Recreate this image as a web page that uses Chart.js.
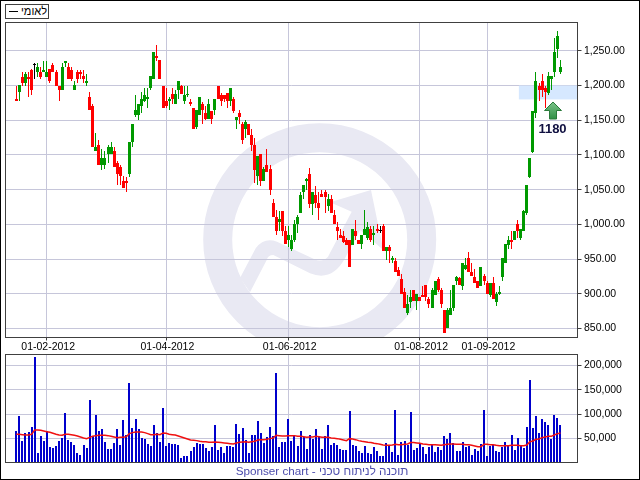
<!DOCTYPE html>
<html lang="he">
<head>
  <meta charset="UTF-8">
  <title>לאומי</title>
  <script src="https://cdn.jsdelivr.net/npm/chart.js"></script>
  <style>
    body { margin: 0; background: #fff; font-family: "Liberation Sans", Arial, sans-serif; }
    #page { position: relative; width: 640px; height: 480px; overflow: hidden; background: #fff; }
    #page canvas { position: absolute; left: 0; }
    #priceChart { top: 0; }
    #volumeChart { top: 340px; }
    #frame { position: absolute; left: 0; top: 0; width: 638px; height: 478px; border: 1px solid #000; }
    #legend {
      position: absolute; left: 5px; top: 4px; width: 42px; height: 13px;
      border: 1px solid #404040; background: #fff; font-size: 11px; line-height: 13px; color: #000;
    }
    #legend i { position: absolute; left: 3px; top: 6px; width: 9px; height: 1px; background: #000; }
    #legend span { position: absolute; left: 15px; top: 0; direction: rtl; }
    #footer {
      position: absolute; left: 2px; top: 464px; width: 640px; text-align: center;
      font-size: 11.7px; line-height: 14px; color: #4c4cac;
    }
  </style>
</head>
<body>
  <div id="page">
    <canvas id="priceChart" width="640" height="352"></canvas>
    <canvas id="volumeChart" width="640" height="140"></canvas>
    <div id="legend"><i></i><span>לאומי</span></div>
    <div id="footer">Sponser chart - תוכנה לניתוח טכני</div>
    <div id="frame"></div>
  </div>

  <script>
    // values, one entry per trading day
    var opens = [
      1181, 1191, 1213, 1204, 1212, 1222, 1230, 1220, 1220, 1220,
      1213, 1224, 1230, 1219, 1200, 1193, 1232, 1227, 1223, 1194,
      1220, 1219, 1214, 1203, 1183, 1170, 1105, 1115, 1085, 1085,
      1102, 1102, 1106, 1089, 1083, 1063, 1063, 1072, 1119, 1157,
      1158, 1171, 1178, 1180, 1196, 1209, 1243, 1237, 1199, 1177,
      1177, 1188, 1174, 1194, 1200, 1178, 1187, 1176, 1167, 1140,
      1158, 1174, 1160, 1152, 1163, 1165, 1199, 1186, 1186, 1189,
      1178, 1180, 1150, 1160, 1144, 1137, 1144, 1129, 1114, 1069,
      1101, 1062, 1086, 1080, 1031, 1010, 1003, 1019, 991, 978,
      964, 977, 1000, 1017, 1047, 1063, 1073, 1030, 1042, 1031,
      1044, 1046, 1026, 1037, 1014, 996, 985, 983, 978, 977,
      970, 991, 977, 971, 984, 980, 993, 984, 994, 991,
      997, 962, 968, 948, 947, 934, 921, 903, 872, 888,
      906, 890, 896, 898, 912, 893, 879, 898, 921, 906,
      877, 850, 869, 879, 918, 922, 911, 935, 951, 932,
      924, 918, 911, 925, 916, 898, 916, 888, 899, 924,
      945, 970, 978, 978, 1001, 981, 991, 1017, 1068, 1104,
      1161, 1199, 1206, 1196, 1189, 1209, 1219, 1252, 1220
    ];
    var closes = [
      1178, 1201, 1204, 1217, 1209, 1193, 1230, 1227, 1213, 1222,
      1219, 1207, 1220, 1199, 1194, 1227, 1235, 1210, 1209, 1201,
      1210, 1216, 1209, 1206, 1165, 1111, 1112, 1085, 1096, 1096,
      1112, 1112, 1083, 1072, 1069, 1053, 1059, 1118, 1144, 1165,
      1174, 1180, 1187, 1183, 1214, 1249, 1239, 1209, 1167, 1171,
      1180, 1180, 1188, 1206, 1188, 1187, 1188, 1173, 1138, 1165,
      1184, 1165, 1152, 1173, 1152, 1180, 1180, 1178, 1181, 1178,
      1196, 1163, 1154, 1155, 1121, 1147, 1129, 1114, 1078, 1098,
      1062, 1080, 1075, 1049, 1010, 991, 1008, 991, 971, 985,
      978, 1001, 1011, 1042, 1056, 1066, 1030, 1046, 1031, 1023,
      1039, 1039, 1037, 1017, 1001, 991, 980, 975, 970, 939,
      993, 983, 971, 985, 994, 996, 977, 987, 990, 991,
      962, 967, 961, 952, 931, 925, 900, 880, 885, 896,
      890, 899, 890, 895, 895, 885, 905, 919, 905, 885,
      844, 876, 880, 912, 924, 913, 945, 941, 931, 926,
      916, 909, 938, 919, 900, 916, 892, 900, 902, 951,
      971, 977, 975, 990, 991, 993, 1019, 1057, 1095, 1163,
      1206, 1194, 1194, 1190, 1214, 1214, 1249, 1271, 1227
    ];
    var highs = [
      1200, 1201, 1219, 1219, 1219, 1224, 1232, 1233, 1227, 1235,
      1235, 1224, 1233, 1222, 1200, 1232, 1236, 1232, 1227, 1207,
      1222, 1222, 1222, 1217, 1191, 1173, 1132, 1122, 1108, 1105,
      1114, 1118, 1111, 1091, 1085, 1069, 1068, 1118, 1144, 1186,
      1174, 1191, 1196, 1196, 1214, 1249, 1259, 1237, 1199, 1197,
      1183, 1197, 1194, 1206, 1201, 1200, 1200, 1181, 1167, 1165,
      1184, 1176, 1170, 1180, 1164, 1180, 1199, 1189, 1187, 1189,
      1196, 1183, 1154, 1165, 1148, 1151, 1145, 1138, 1125, 1098,
      1101, 1083, 1108, 1086, 1037, 1021, 1019, 1019, 998, 997,
      984, 1006, 1013, 1046, 1056, 1067, 1081, 1047, 1055, 1046,
      1050, 1049, 1044, 1043, 1020, 1003, 993, 990, 981, 978,
      993, 1006, 977, 985, 1020, 1004, 998, 997, 1000, 998,
      1000, 968, 970, 955, 951, 939, 928, 909, 898, 906,
      906, 899, 896, 911, 913, 896, 909, 919, 924, 909,
      877, 880, 906, 913, 926, 924, 945, 951, 960, 945,
      935, 919, 939, 929, 919, 916, 924, 902, 911, 951,
      971, 983, 990, 990, 1006, 993, 1020, 1057, 1095, 1163,
      1220, 1203, 1216, 1199, 1219, 1214, 1269, 1278, 1237
    ];
    var lows = [
      1177, 1178, 1200, 1199, 1184, 1186, 1210, 1213, 1209, 1220,
      1213, 1204, 1219, 1199, 1178, 1193, 1226, 1209, 1207, 1193,
      1204, 1210, 1203, 1199, 1165, 1111, 1105, 1085, 1079, 1080,
      1088, 1102, 1082, 1056, 1057, 1052, 1046, 1068, 1111, 1155,
      1151, 1161, 1176, 1168, 1193, 1209, 1235, 1209, 1167, 1167,
      1165, 1173, 1173, 1181, 1188, 1173, 1184, 1170, 1138, 1138,
      1157, 1145, 1150, 1152, 1145, 1158, 1180, 1171, 1176, 1168,
      1171, 1161, 1138, 1145, 1116, 1124, 1129, 1106, 1059, 1057,
      1055, 1062, 1075, 1043, 1010, 984, 990, 983, 971, 967,
      962, 975, 987, 1017, 1036, 1049, 1024, 1014, 1023, 1006,
      1039, 1016, 1019, 1017, 1001, 977, 980, 973, 970, 939,
      970, 977, 971, 965, 984, 978, 975, 970, 987, 987,
      962, 949, 944, 944, 931, 925, 900, 879, 869, 879,
      890, 877, 889, 895, 889, 879, 879, 898, 903, 879,
      844, 850, 869, 875, 913, 913, 906, 934, 931, 925,
      916, 909, 911, 913, 900, 895, 892, 882, 898, 918,
      945, 965, 965, 977, 981, 978, 990, 1013, 1067, 1103,
      1153, 1178, 1183, 1168, 1186, 1194, 1213, 1239, 1217
    ];
    var volumes = [
      64300, 95300, 43700, 60200, 62300, 72600, 217100, 18900, 54000, 43700,
      64300, 31300, 29200, 33400, 43700, 49900, 101500, 45800, 41600, 35400,
      18900, 14800, 35400, 29200, 128300, 54000, 97400, 64300, 68500, 41600,
      27200, 27200, 39600, 68500, 35400, 87000, 56100, 163400, 70500, 89100,
      68500, 49900, 47800, 37500, 33400, 76700, 60200, 41600, 111800, 33400,
      39600, 37500, 37500, 35400, 8600, 12700, 12700, 23100, 31300, 39600,
      37500, 37500, 29200, 23100, 31300, 76700, 25100, 31300, 18900, 33400,
      33400, 31300, 78800, 58100, 70500, 45800, 18900, 56100, 56100, 85000,
      60200, 39600, 51900, 72600, 54000, 184000, 31300, 41600, 41600, 89100,
      43700, 54000, 33400, 64300, 51900, 27200, 56100, 47800, 68500, 54000,
      27200, 54000, 76700, 35400, 39600, 35400, 27200, 25100, 25100, 105600,
      35400, 33400, 23100, 18900, 33400, 18900, 16900, 31300, 23100, 12700,
      12700, 39600, 35400, 21000, 107700, 14800, 41600, 43700, 35400, 103500,
      25100, 29200, 39600, 31300, 16900, 31300, 37500, 21000, 31300, 25100,
      54000, 47800, 60200, 39600, 23100, 23100, 41600, 31300, 33400, 14800,
      27200, 23100, 37500, 107700, 12700, 33400, 35400, 23100, 21000, 31300,
      41600, 35400, 56100, 25100, 49900, 33400, 29200, 72600, 169600, 70500,
      95300, 60200, 89100, 82900, 76700, 47800, 97400, 91200, 76700
    ];
    var volumeAverage = [
      58100, 58100, 57400, 56800, 56800, 58100, 67100, 67100, 66400, 65000,
      63600, 62300, 60200, 58100, 56800, 56100, 58100, 58100, 57400, 56100,
      54700, 52600, 50600, 49200, 51900, 54000, 55400, 56100, 56100, 56100,
      55400, 54000, 52600, 51300, 51900, 51900, 53300, 59500, 61600, 63000,
      63000, 63000, 61600, 59500, 57400, 57400, 58100, 57400, 60900, 60200,
      58100, 57400, 56800, 54700, 52600, 50600, 48500, 46400, 45800, 45100,
      43700, 43000, 43000, 41600, 41600, 42300, 41600, 41000, 40300, 39600,
      38900, 38200, 40300, 41600, 42300, 43000, 41600, 43000, 43700, 46400,
      47100, 47100, 47800, 49200, 50600, 56100, 55400, 54700, 54700, 55400,
      55400, 55400, 54000, 54000, 53300, 51900, 52600, 52600, 54000, 53300,
      51900, 51900, 51900, 50600, 49900, 49200, 47800, 46400, 45100, 49200,
      48500, 47100, 45100, 43700, 43000, 41600, 41000, 39600, 38900, 37500,
      36100, 35400, 35400, 36100, 37500, 36800, 36800, 37500, 38200, 41000,
      41000, 40300, 39600, 38200, 37500, 36800, 36800, 36800, 36100, 35400,
      36800, 37500, 38200, 38200, 37500, 37500, 37500, 36800, 36800, 35400,
      34100, 32700, 32700, 37500, 37500, 36800, 36800, 35400, 34700, 34700,
      34700, 34700, 35400, 35400, 35400, 34700, 34700, 36100, 43000, 44400,
      47800, 48500, 51300, 52600, 54000, 54000, 56800, 59500, 60900
    ];

    var dayIndex = opens.map(function(v, i) { return i; });
    var dateTicks = { 10: '01-02-2012', 49: '01-04-2012', 89: '01-06-2012', 132: '01-08-2012', 154: '01-09-2012' };
    var priceTicks = [850, 900, 950, 1000, 1050, 1100, 1150, 1200, 1250];
    var volumeTicks = [50000, 100000, 150000, 200000];
    var supportLow = 1180;
    var supportHigh = 1200;

    var RED = '#ff0000', GREEN = '#009900', BLACK = '#000000';
    var GRID = '#c6c6da', AXIS = '#404040', FONT = '"Liberation Sans", Arial, sans-serif';

    var candleColors = opens.map(function(o, i) {
      if (closes[i] > o) return GREEN;
      if (closes[i] < o) return RED;
      return BLACK;
    });

    function pairs(a, b) {
      return a.map(function(v, i) { return [v, b[i]]; });
    }

    function setDateTicks(scale) {
      scale.ticks = Object.keys(dateTicks).map(function(k) { return { value: +k }; });
    }

    // x axis shared by both panes
    function dateAxis(showLabels) {
      return {
        type: 'linear',
        offset: false,
        min: -3.53,
        max: 183.58,
        afterBuildTicks: setDateTicks,
        afterFit: function(scale) { scale.height = showLabels ? 14.5 : 0; },
        border: { display: false },
        grid: { offset: false, color: GRID, tickColor: AXIS, tickLength: 3, drawTicks: showLabels },
        ticks: {
          display: showLabels,
          autoSkip: false,
          maxRotation: 0,
          padding: 0,
          labelOffset: 1.3,
          color: '#000',
          font: { family: FONT, size: 10.5 },
          callback: function(value) { return dateTicks[value]; }
        }
      };
    }

    function valueAxis(min, max, tickValues, format) {
      return {
        position: 'right',
        min: min,
        max: max,
        afterBuildTicks: function(scale) {
          scale.ticks = tickValues.map(function(v) { return { value: v }; });
        },
        afterFit: function(scale) { scale.width = 62.5; },
        border: { display: false },
        grid: { color: GRID, tickColor: AXIS, tickLength: 4 },
        ticks: { padding: 2.5, color: '#000', font: { family: FONT, size: 10.5 }, callback: format }
      };
    }

    // keeps bars on whole pixels so they stay sharp
    var snapBars = {
      id: 'snapBars',
      beforeDatasetsDraw: function(chart) {
        chart.getSortedVisibleDatasetMetas().forEach(function(meta) {
          if (meta.type !== 'bar') return;
          meta.data.forEach(function(bar) {
            bar.x = bar.width === 2 ? Math.round(bar.x) : Math.floor(bar.x) + 0.5;
            bar.y = Math.round(bar.y);
            bar.base = Math.round(bar.base);
            if (bar.y === bar.base) bar.base = bar.y + 1;
          });
        });
      }
    };

    var plotFrame = {
      id: 'plotFrame',
      afterDatasetsDraw: function(chart) {
        var a = chart.chartArea, ctx = chart.ctx;
        ctx.save();
        ctx.strokeStyle = AXIS;
        ctx.lineWidth = 1;
        ctx.strokeRect(a.left, a.top, a.right - a.left, a.bottom - a.top);
        ctx.restore();
      }
    };

    // faint round logo behind the candles
    var watermark = {
      id: 'watermark',
      beforeDraw: function(chart) {
        var a = chart.chartArea, ctx = chart.ctx;
        ctx.save();
        ctx.beginPath();
        ctx.rect(a.left, a.top, a.right - a.left, a.bottom - a.top);
        ctx.clip();
        ctx.strokeStyle = '#e9e9f3';
        ctx.fillStyle = '#e9e9f3';
        ctx.lineWidth = 29;
        ctx.beginPath();
        ctx.arc(319.7, 239.7, 102, 0, Math.PI * 2);
        ctx.stroke();
        ctx.beginPath();
        ctx.moveTo(240, 278);
        ctx.lineTo(255.7, 248.3);
        ctx.quadraticCurveTo(264, 237, 277, 241.7);
        ctx.lineTo(314, 259);
        ctx.quadraticCurveTo(322, 263, 328, 256.7);
        ctx.lineTo(351.7, 211.7);
        ctx.lineTo(330, 202.3);
        ctx.lineTo(371, 190);
        ctx.lineTo(383.3, 250);
        ctx.lineTo(360, 230);
        ctx.lineTo(345, 258.3);
        ctx.quadraticCurveTo(332, 282, 310, 273.3);
        ctx.lineTo(273.3, 255);
        ctx.quadraticCurveTo(268, 255, 266.7, 260);
        ctx.lineTo(250, 292.3);
        ctx.closePath();
        ctx.fill();
        ctx.restore();
      }
    };

    var supportZone = {
      id: 'supportZone',
      beforeDatasetsDraw: function(chart) {
        var a = chart.chartArea, ctx = chart.ctx;
        var x = chart.scales.x.getPixelForValue(164.4);
        var top = chart.scales.y.getPixelForValue(supportHigh);
        var bottom = chart.scales.y.getPixelForValue(supportLow);
        ctx.save();
        ctx.fillStyle = '#d6e8ff';
        ctx.fillRect(x, top, a.right - x, bottom - top);
        ctx.restore();
      },
      afterDatasetsDraw: function(chart) {
        var ctx = chart.ctx;
        var x = Math.round(chart.scales.x.getPixelForValue(175.5));
        var y = Math.round(chart.scales.y.getPixelForValue(1176));
        var fill = ctx.createLinearGradient(0, y, 0, y + 17);
        fill.addColorStop(0, '#7cc48a');
        fill.addColorStop(1, '#2f8f44');
        ctx.save();
        ctx.fillStyle = fill;
        ctx.strokeStyle = '#2a7a3a';
        ctx.lineWidth = 1;
        ctx.beginPath();
        ctx.moveTo(x, y);
        ctx.lineTo(x + 8.5, y + 8.5);
        ctx.lineTo(x + 3.5, y + 8.5);
        ctx.lineTo(x + 3.5, y + 17);
        ctx.lineTo(x - 3.5, y + 17);
        ctx.lineTo(x - 3.5, y + 8.5);
        ctx.lineTo(x - 8.5, y + 8.5);
        ctx.closePath();
        ctx.fill();
        ctx.stroke();
        ctx.fillStyle = '#101040';
        ctx.font = 'bold 13px ' + FONT;
        ctx.textAlign = 'center';
        ctx.textBaseline = 'middle';
        ctx.fillText(String(supportLow), x - 0.5, y + 27);
        ctx.restore();
      }
    };

    var priceChart = new Chart(document.getElementById('priceChart'), {
      type: 'bar',
      data: {
        labels: dayIndex,
        datasets: [
          {
            data: pairs(opens, closes),
            backgroundColor: candleColors,
            barThickness: 3,
            minBarLength: 1,
            inflateAmount: 0
          },
          {
            data: pairs(lows, highs),
            backgroundColor: candleColors,
            barThickness: 1,
            inflateAmount: 0
          }
        ]
      },
      options: {
        responsive: false,
        animation: false,
        events: [],
        grouped: false,
        layout: { padding: { left: 5.5, top: 22.5, right: 0, bottom: 0 } },
        plugins: { legend: { display: false }, tooltip: { enabled: false } },
        scales: {
          x: dateAxis(true),
          y: valueAxis(837, 1290.8, priceTicks, function(value) {
            return value.toLocaleString('en-US', { minimumFractionDigits: 2 });
          })
        }
      },
      plugins: [watermark, supportZone, snapBars, plotFrame]
    });

    var volumeChart = new Chart(document.getElementById('volumeChart'), {
      type: 'bar',
      data: {
        labels: dayIndex,
        datasets: [
          {
            type: 'line',
            data: volumeAverage,
            borderColor: '#f01010',
            borderWidth: 1.5,
            pointRadius: 0,
            tension: 0,
            order: 0
          },
          {
            data: volumes,
            backgroundColor: '#0000cc',
            barThickness: 2,
            inflateAmount: 0,
            order: 1
          }
        ]
      },
      options: {
        responsive: false,
        animation: false,
        events: [],
        layout: { padding: { left: 5.5, top: 14.5, right: 0, bottom: 17.5 } },
        plugins: { legend: { display: false }, tooltip: { enabled: false } },
        scales: {
          x: dateAxis(false),
          y: valueAxis(0, 222700, volumeTicks, function(value) {
            return value.toLocaleString('en-US');
          })
        }
      },
      plugins: [snapBars, plotFrame]
    });
  </script>
</body>
</html>
